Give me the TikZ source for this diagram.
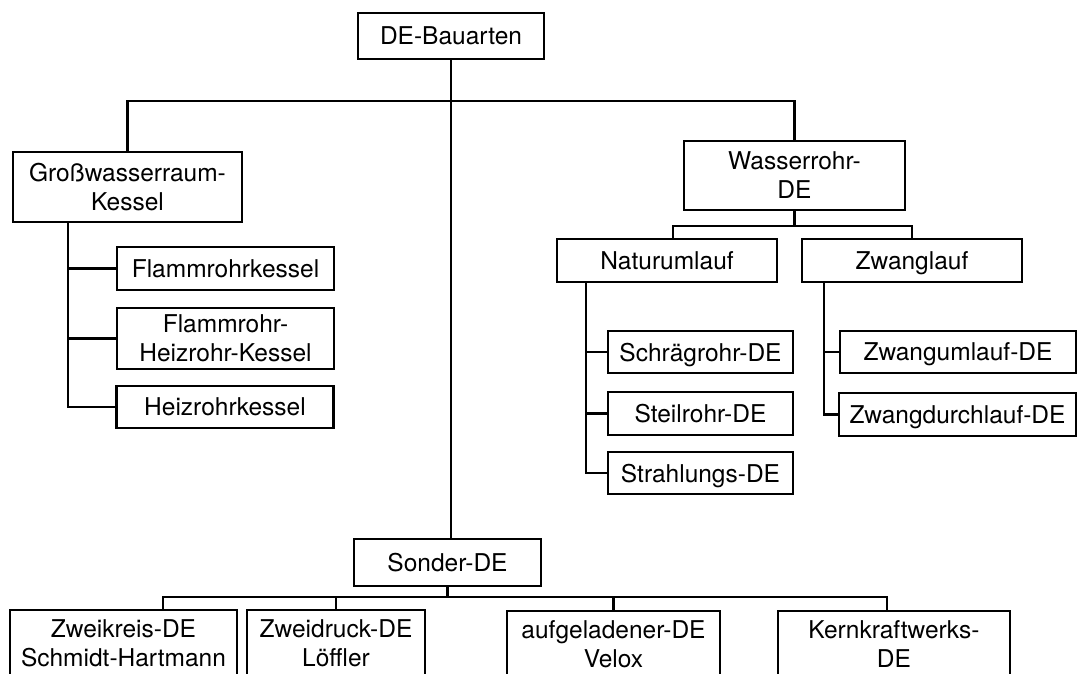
\documentclass[tikz,border=0pt]{standalone}
\usepackage{fontspec}
\setmainfont{TeX Gyre Heros}
\begin{document}
\begin{tikzpicture}[x=1pt,y=-1pt,
  box/.style={draw,line width=2.2pt,inner sep=0pt,font=\fontsize{24.5}{29}\selectfont,align=center},
  one/.style={text depth=0pt},
  conn/.style={draw,line width=2.2pt}]
\useasboundingbox (0,0) rectangle (1079,674);
% top
\node[box,one,minimum width=186pt,minimum height=46pt] (root) at (451,36) {DE-Bauarten};
% Grosswasserraum branch
\node[box,minimum width=229pt,minimum height=70pt] (gross) at (127.5,187) {Großwasserraum-\\Kessel};
\node[box,one,minimum width=217pt,minimum height=43pt] (flk) at (225.5,268.5) {Flammrohrkessel};
\node[box,minimum width=217pt,minimum height=61pt] (fhk) at (225.5,338.5) {Flammrohr-\\Heizrohr-Kessel};
\node[box,one,minimum width=217pt,minimum height=42pt] (hk) at (225,407) {Heizrohrkessel};
% Wasserrohr branch
\node[box,minimum width=221pt,minimum height=69pt] (wr) at (794.5,175.5) {Wasserrohr-\\DE};
\node[box,one,minimum width=220pt,minimum height=43pt] (nat) at (667,260.5) {Naturumlauf};
\node[box,one,minimum width=220pt,minimum height=43pt] (zw) at (912,260.5) {Zwanglauf};
\node[box,one,minimum width=185pt,minimum height=42pt] (sch) at (700.5,352) {Schrägrohr-DE};
\node[box,one,minimum width=185pt,minimum height=43pt] (steil) at (700.5,413.5) {Steilrohr-DE};
\node[box,one,minimum width=185pt,minimum height=42pt] (strahl) at (700.5,473) {Strahlungs-DE};
\node[box,one,minimum width=236pt,minimum height=42pt] (zu) at (958,352) {Zwangumlauf-DE};
\node[box,one,minimum width=237pt,minimum height=43pt] (zd) at (957.5,414.5) {Zwangdurchlauf-DE};
% Sonder branch
\node[box,one,minimum width=187pt,minimum height=47pt] (sonder) at (447.5,562.5) {Sonder-DE};
\node[box,minimum width=227pt,minimum height=67pt] (zk) at (123.5,643.5) {Zweikreis-DE\\Schmidt-Hartmann};
\node[box,minimum width=178pt,minimum height=67pt] (zdr) at (336,643.5) {Zweidruck-DE\\Löffler};
\node[box,minimum width=213pt,minimum height=67pt] (auf) at (613.5,644.5) {aufgeladener-DE\\Velox};
\node[box,minimum width=232pt,minimum height=67pt] (kkw) at (894,644.5) {Kernkraftwerks-\\DE};
% junctions
\coordinate (j1) at (451,101);
\coordinate (j2) at (794.5,226);
\coordinate (j3) at (447.5,597);
% connectors
\draw[conn] (root.south) -- (root.south |- sonder.north);
\draw[conn] (gross.north) |- (j1) -| (wr.north);
\draw[conn] ([xshift=-59.5pt]gross.south) |- (hk.west);
\draw[conn] ([xshift=-59.5pt]gross.south) |- (flk.west);
\draw[conn] ([xshift=-59.5pt]gross.south) |- (fhk.west);
\draw[conn] (wr.south) -- (j2);
\draw[conn] ([xshift=6pt]nat.north) |- (j2) -| (zw.north);
\draw[conn] ([xshift=-81pt]nat.south) |- (strahl.west);
\draw[conn] ([xshift=-81pt]nat.south) |- (sch.west);
\draw[conn] ([xshift=-81pt]nat.south) |- (steil.west);
\draw[conn] ([xshift=-88pt]zw.south) |- (zd.west);
\draw[conn] ([xshift=-88pt]zw.south) |- (zu.west);
\draw[conn] (sonder.south) -- (j3);
\draw[conn] ([xshift=39.5pt]zk.north) |- (j3) -| ([xshift=-7pt]kkw.north);
\draw[conn] (zdr.north) -- (zdr.north |- j3);
\draw[conn] (auf.north) -- (auf.north |- j3);
\end{tikzpicture}
\end{document}
